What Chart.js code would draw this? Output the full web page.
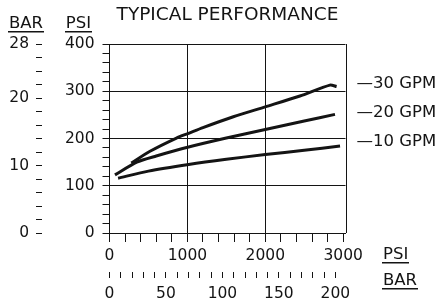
<!DOCTYPE html>
<html>
<head>
<meta charset="utf-8">
<script src="https://cdn.jsdelivr.net/npm/chart.js@4.4.0/dist/chart.umd.min.js"></script>
<style>
html, body { margin: 0; padding: 0; background: #fff; }
</style>
</head>
<body>
<canvas id="chart" width="440" height="307"></canvas>
<script>
// curves, x = outlet pressure (psi), y = pressure (psi)
const flowLabels = ['30 GPM', '20 GPM', '10 GPM'];
const x30 = [280, 520, 860, 1016, 1200, 1590, 2000, 2445, 2830, 2916];
const y30 = [148, 173, 201, 211, 223, 246, 267, 290, 313, 310];
const x20 = [70, 350, 600, 1016, 1500, 2000, 2500, 2895];
const y20 = [123, 150, 163, 182, 201, 219, 237, 251];
const x10 = [110, 500, 1016, 1500, 2000, 2500, 2960];
const y10 = [116, 131, 145, 156, 166, 175, 184];
const gpmLabelAt = [315, 255, 194];   // psi level of the right hand labels

const psiPerBar = 14.5;
const psiXTicks = [0, 200, 400, 600, 800, 1000, 1200, 1400, 1600, 1800, 2000, 2200, 2400, 2600, 2800, 3000];
const psiXLabels = [0, 1000, 2000, 3000];
const psiXGrid = [1000, 2000];
const psiYTicks = [0, 20, 40, 60, 80, 100, 120, 140, 160, 180, 200, 220, 240, 260, 280, 300, 320, 340, 360, 380, 400];
const psiYLabels = [0, 100, 200, 300, 400];
const psiYGrid = [100, 200, 300, 400];
const barYTicks = [0, 2, 4, 6, 8, 10, 12, 14, 16, 18, 20, 22, 24, 26, 28];
const barYLabels = [0, 10, 20, 28];
const barXTicks = [0, 10, 20, 30, 40, 50, 60, 70, 80, 90, 100, 110, 120, 130, 140, 150, 160, 170, 180, 190, 200];
const barXLabels = [0, 50, 100, 150, 200];

const ink = '#141414';
const fam = 'DejaVu Sans';

function pts(xs, ys) { return xs.map((x, i) => ({ x: x, y: ys[i] })); }
function fixTicks(values) { return s => { s.ticks = values.map(v => ({ value: v })); }; }
function onlyLabels(list) { return v => list.includes(v) ? String(v) : ''; }
function gridAt(list) { return c => (c.tick && list.includes(c.tick.value)) ? ink : 'rgba(0,0,0,0)'; }

const tickFont = { family: fam, size: 15.5 };

const extras = {
    id: 'extras',
    afterDraw(chart) {
        const { ctx, chartArea: a, scales } = chart;
        ctx.save();
        ctx.strokeStyle = ink;
        ctx.lineWidth = 1;
        const rx = Math.round(a.right) + 0.5;
        ctx.beginPath();
        ctx.moveTo(rx, a.top);
        ctx.lineTo(rx, a.bottom);
        ctx.stroke();

        ctx.fillStyle = ink;
        ctx.font = '16.5px "' + fam + '"';
        ctx.textBaseline = 'middle';

        function put(text, x, y, align, under) {
            ctx.textAlign = align;
            ctx.fillText(text, x, y);
            if (under) {
                const w = ctx.measureText(text).width;
                const x0 = align === 'center' ? x - w / 2 : x;
                ctx.fillRect(Math.round(x0) - 1, Math.round(y + 7), Math.round(w) + 2, 1.5);
            }
        }
        put('BAR', 26, 24, 'center', true);
        put('PSI', 78.5, 24, 'center', true);
        put('PSI', a.right + 37.5, 255, 'left', true);
        put('BAR', a.right + 37.5, 281, 'left', true);

        flowLabels.forEach((t, i) => {
            put('\u2014' + t, a.right + 11, scales.y.getPixelForValue(gpmLabelAt[i]), 'left', false);
        });
        ctx.restore();
    }
};

const line = (label, data) => ({
    label: label, data: data, borderColor: ink, borderWidth: 3,
    pointRadius: 0, tension: 0.25, fill: false, xAxisID: 'x', yAxisID: 'y'
});

new Chart(document.getElementById('chart').getContext('2d'), {
    type: 'line',
    data: {
        datasets: [
            line(flowLabels[0], pts(x30, y30)),
            line(flowLabels[1], pts(x20, y20)),
            line(flowLabels[2], pts(x10, y10))
        ]
    },
    options: {
        responsive: false,
        animation: false,
        layout: { padding: { top: 0, right: 94.5, bottom: 0, left: 0 } },
        plugins: {
            legend: { display: false },
            tooltip: { enabled: false },
            title: {
                display: true, text: 'TYPICAL PERFORMANCE', fullSize: false, color: ink,
                font: { family: fam, size: 18.5, weight: 'normal' },
                padding: { top: 4, bottom: 17.8 }
            }
        },
        scales: {
            x: {
                type: 'linear', position: 'bottom', weight: 0, min: 0, max: 3030,
                afterBuildTicks: fixTicks(psiXTicks),
                afterFit: s => { s.height = 39; },
                ticks: { autoSkip: false, maxRotation: 0, padding: 5, color: ink, font: tickFont, callback: onlyLabels(psiXLabels) },
                grid: { color: gridAt(psiXGrid), lineWidth: 1, tickColor: ink, tickLength: 9 },
                border: { color: ink, width: 1 }
            },
            xBar: {
                type: 'linear', position: 'bottom', weight: 1, min: 0, max: 3030 / psiPerBar,
                afterBuildTicks: fixTicks(barXTicks),
                afterFit: s => { s.height = 35; },
                ticks: { autoSkip: false, maxRotation: 0, padding: 7, color: ink, font: tickFont, callback: onlyLabels(barXLabels) },
                grid: { drawOnChartArea: false, tickColor: ink, tickLength: 6 },
                border: { display: false }
            },
            y: {
                type: 'linear', position: 'left', weight: 0, min: 0, max: 400,
                afterBuildTicks: fixTicks(psiYTicks),
                afterFit: s => { s.width = 67.5; },
                ticks: { autoSkip: false, padding: 8, color: ink, font: tickFont, callback: onlyLabels(psiYLabels) },
                grid: { color: gridAt(psiYGrid), lineWidth: 1, tickColor: ink, tickLength: 7 },
                border: { color: ink, width: 1 }
            },
            yBar: {
                type: 'linear', position: 'left', weight: 1, min: 0, max: 28,
                afterBuildTicks: fixTicks(barYTicks),
                afterFit: s => { s.width = 42; },
                ticks: { autoSkip: false, padding: 7, color: ink, font: tickFont, callback: onlyLabels(barYLabels) },
                grid: { drawOnChartArea: false, tickColor: ink, tickLength: 6 },
                border: { display: false }
            }
        }
    },
    plugins: [extras]
});
</script>
</body>
</html>
